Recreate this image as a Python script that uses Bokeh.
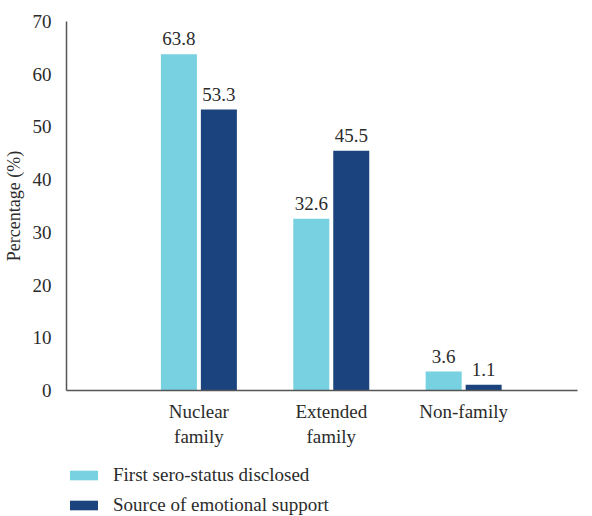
from bokeh.plotting import figure
from bokeh.layouts import column
from bokeh.models import (ColumnDataSource, Range1d, FixedTicker, Legend, LegendItem)
from bokeh.embed import file_html
from bokeh.resources import INLINE
from bokeh.core.properties import value

# Data
categories = ["Nuclear\nfamily", "Extended\nfamily", "Non-family"]
first_disclosed = [63.8, 32.6, 3.6]
emotional_support = [53.3, 45.5, 1.1]
series_names = ["First sero-status disclosed", "Source of emotional support"]
y_ticks = [0, 10, 20, 30, 40, 50, 60, 70]

FONT = "Liberation Serif"
TEXT = "#2b2b2b"
LIGHT = "#77d1e0"
DARK = "#1b437d"
COLORS = [LIGHT, DARK]

xs = [1, 2, 3]
offset = 0.151
bar_w = 0.272

src_a = ColumnDataSource(dict(x=[x - offset for x in xs], top=first_disclosed,
                              label=[f"{v:.1f}" for v in first_disclosed]))
src_b = ColumnDataSource(dict(x=[x + offset for x in xs], top=emotional_support,
                              label=[f"{v:.1f}" for v in emotional_support]))

p = figure(width=592, height=456, output_backend="svg", toolbar_location=None,
           x_range=Range1d(0, 3.86), y_range=Range1d(0, 70),
           min_border_left=66, min_border_right=15, min_border_top=21,
           min_border_bottom=66)
p.outline_line_color = None
p.grid.visible = False
p.background_fill_color = "white"
p.border_fill_color = "white"

p.vbar(x="x", top="top", width=bar_w, source=src_a, fill_color=LIGHT, line_color=None)
p.vbar(x="x", top="top", width=bar_w, source=src_b, fill_color=DARK, line_color=None)

# Value labels above each bar
for src in (src_a, src_b):
    p.text(x="x", y="top", text="label", source=src, text_align="center",
           text_baseline="bottom", y_offset=-9, text_font=value(FONT),
           text_font_size="19px", text_color=TEXT)

# Axes
p.yaxis.ticker = FixedTicker(ticks=y_ticks)
p.yaxis.axis_label = "Percentage (%)"
p.xaxis.ticker = FixedTicker(ticks=xs)
p.xaxis.major_label_overrides = {x: c for x, c in zip(xs, categories)}
for ax in (p.xaxis, p.yaxis):
    ax.major_tick_line_color = None
    ax.minor_tick_line_color = None
    ax.axis_line_color = "#555555"
    ax.axis_line_width = 1.5
    ax.major_label_text_font = FONT
    ax.major_label_text_font_size = "19px"
    ax.major_label_text_color = TEXT
p.yaxis.major_label_standoff = 9
p.xaxis.major_label_standoff = 4
p.yaxis.axis_label_text_font = FONT
p.yaxis.axis_label_text_font_size = "18px"
p.yaxis.axis_label_text_font_style = "normal"
p.yaxis.axis_label_text_color = TEXT
p.yaxis.axis_label_standoff = 6

# Legend strip underneath the chart
leg = figure(width=592, height=60, output_backend="svg", toolbar_location=None,
             x_axis_type=None, y_axis_type=None, x_range=Range1d(0, 1),
             y_range=Range1d(0, 1), min_border=0)
leg.outline_line_color = None
leg.grid.visible = False
leg.background_fill_color = "white"
leg.border_fill_color = "white"
items = []
for name, color in zip(series_names, COLORS):
    # swatch-only renderer: no drawable geometry, just its legend entry
    r = leg.vbar(x=[float("nan")], top=[float("nan")], width=0.1,
                 fill_color=color, line_color=None)
    items.append(LegendItem(label=name, renderers=[r]))
legend = Legend(items=items, location=(0, 0), orientation="vertical",
                glyph_width=35, glyph_height=12, label_height=20,
                spacing=8, label_standoff=12, padding=0, margin=0,
                border_line_color=None, background_fill_alpha=0,
                label_text_font=FONT, label_text_font_size="19px",
                label_text_color=TEXT)
leg.add_layout(legend, "center")

layout = column(p, leg, spacing=0)
open("out.html", "w").write(file_html(layout, INLINE))
